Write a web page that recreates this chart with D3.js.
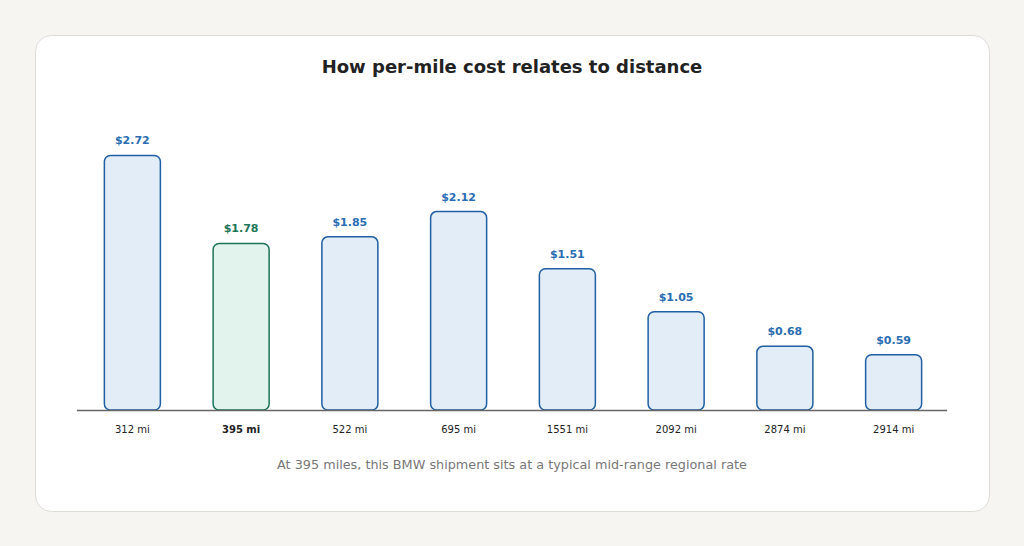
<!DOCTYPE html>
<html>
<head>
<meta charset="utf-8">
<script src="https://cdn.jsdelivr.net/npm/d3@7"></script>
<style>
  html, body { margin: 0; padding: 0; background: #f6f5f1; }
  body { width: 1024px; height: 546px; overflow: hidden; font-family: "DejaVu Sans", sans-serif; }
</style>
</head>
<body>
<div id="main"></div>
<script>
"use strict";

// chart data
const distances = ["312 mi", "395 mi", "522 mi", "695 mi", "1551 mi", "2092 mi", "2874 mi", "2914 mi"];
const costPerMile = [2.72, 1.78, 1.85, 2.12, 1.51, 1.05, 0.68, 0.59];
const highlight = "395 mi";
const title = "How per-mile cost relates to distance";
const caption = "At 395 miles, this BMW shipment sits at a typical mid-range regional rate";

function draw() {
    const width = 1024, height = 546;
    const svg = d3.select("#main").append("svg")
        .attr("width", width)
        .attr("height", height);

    // card
    svg.append("rect")
        .attr("x", 35.5).attr("y", 35.5)
        .attr("width", 954).attr("height", 476)
        .attr("rx", 16)
        .attr("fill", "#ffffff")
        .attr("stroke", "#dddcd6");

    svg.append("text")
        .attr("x", 512).attr("y", 73)
        .attr("text-anchor", "middle")
        .style("font-size", "18px")
        .style("font-weight", "bold")
        .attr("fill", "#222")
        .text(title);

    const data = distances.map((d, i) => ({ name: d, value: costPerMile[i] }));

    const x = d3.scaleBand()
        .domain(distances)
        .range([78, 948])
        .paddingInner(0.485)
        .paddingOuter(0.2425);

    const baseY = 410;
    const y = d3.scaleLinear()
        .domain([0, d3.max(costPerMile) * 1.1])
        .range([baseY, 130]);

    const isHi = d => d.name === highlight;

    // bars
    svg.append("g")
        .selectAll("rect")
        .data(data)
        .join("rect")
        .attr("x", d => x(d.name))
        .attr("y", d => y(d.value))
        .attr("width", x.bandwidth())
        .attr("height", d => baseY - y(d.value))
        .attr("rx", 6)
        .attr("fill", d => isHi(d) ? "#e1f3ec" : "#e3edf8")
        .attr("stroke", d => isHi(d) ? "#1b7556" : "#1f5fa3")
        .attr("stroke-width", 1.5);

    // baseline
    svg.append("line")
        .attr("x1", 77).attr("x2", 947)
        .attr("y1", baseY + 0.5).attr("y2", baseY + 0.5)
        .attr("stroke", "#666")
        .attr("stroke-width", 1.5);

    // value labels
    svg.append("g")
        .selectAll("text")
        .data(data)
        .join("text")
        .attr("x", d => x(d.name) + x.bandwidth() / 2)
        .attr("y", d => y(d.value) - 11)
        .attr("text-anchor", "middle")
        .style("font-size", "11px")
        .style("font-weight", "bold")
        .attr("fill", d => isHi(d) ? "#1b7556" : "#2a6db3")
        .text(d => "$" + d.value.toFixed(2));

    // category labels
    svg.append("g")
        .selectAll("text")
        .data(data)
        .join("text")
        .attr("x", d => x(d.name) + x.bandwidth() / 2)
        .attr("y", 433)
        .attr("text-anchor", "middle")
        .style("font-size", "10px")
        .style("font-weight", d => isHi(d) ? "bold" : "normal")
        .attr("fill", "#222")
        .text(d => d.name);

    svg.append("text")
        .attr("x", 512).attr("y", 469)
        .attr("text-anchor", "middle")
        .style("font-size", "12.8px")
        .attr("fill", "#777")
        .text(caption);
}

draw();
</script>
</body>
</html>
